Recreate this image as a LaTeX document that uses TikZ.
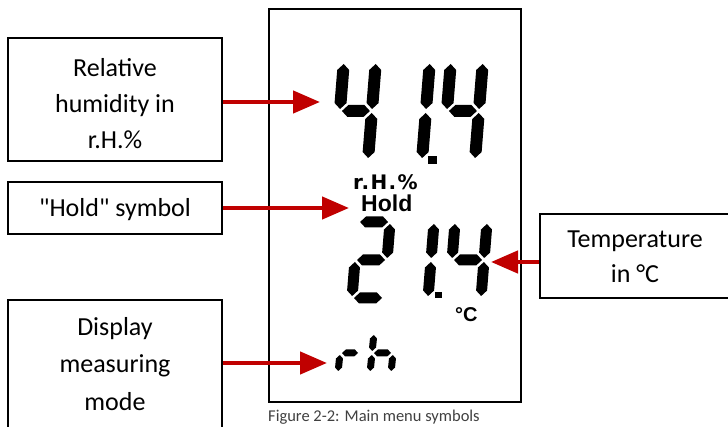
\documentclass[tikz,border=0pt]{standalone}
\usepackage{fontspec}
\setmainfont{Carlito}
\newfontfamily\carlq{Carlito}
\newfontfamily\arialf{Liberation Sans}
\newfontfamily\dejaf{DejaVu Sans}
\usetikzlibrary{arrows.meta}
\definecolor{arrred}{HTML}{C00000}
\newcommand\segt{10}
\newcommand\segg{2}
\newcommand\hsegment[3]{%
  \fill (#1+\segg,#3) -- (#1+\segg+\segt/2,#3+\segt/2) -- (#2-\segg-\segt/2,#3+\segt/2) -- (#2-\segg,#3) -- (#2-\segg-\segt/2,#3-\segt/2) -- (#1+\segg+\segt/2,#3-\segt/2) -- cycle;}
\newcommand\vsegment[3]{%
  \fill (#1,#2+\segg) -- (#1+\segt/2,#2+\segg+\segt/2) -- (#1+\segt/2,#3-\segg-\segt/2) -- (#1,#3-\segg) -- (#1-\segt/2,#3-\segg-\segt/2) -- (#1-\segt/2,#2+\segg+\segt/2) -- cycle;}
\def\lcdsega{\hsegment{0}{\dW}{\dH}}
\def\lcdsegb{\vsegment{\dW}{\dM}{\dH}}
\def\lcdsegc{\vsegment{\dW}{0}{\dM}}
\def\lcdsegd{\hsegment{0}{\dW}{0}}
\def\lcdsege{\vsegment{0}{0}{\dM}}
\def\lcdsegf{\vsegment{0}{\dM}{\dH}}
\def\lcdsegg{\hsegment{0}{\dW}{\dM}}
\newcommand\lcddigit[7]{%
  \begin{scope}[shift={(#1,#2)},x=1pt,y=1pt,xslant=#6]
    \def\segt{#5}%
    \pgfmathsetmacro\dW{#3}\pgfmathsetmacro\dH{#4}\pgfmathsetmacro\dM{#4/2}%
    \foreach \s in {#7}{\csname lcdseg\s\endcsname}
  \end{scope}}
\tikzset{
  boxn/.style={draw=black, line width=2pt, inner sep=0pt},
  lbl/.style={anchor=base, inner sep=0pt, font=\carlq\fontsize{26}{26}\selectfont},
  lcdtxt/.style={anchor=base west, inner sep=0pt},
  arrw/.style={draw=arrred, line width=4.5pt, -{Triangle[length=27pt 0,width=22pt 0]}, arrred}
}
\begin{document}
\begin{tikzpicture}[x=1pt,y=-1pt]
\useasboundingbox (0,0) rectangle (728,427);
\clip (0,0) rectangle (728,427);
\fill[white] (0,0) rectangle (728,427);
% LCD frame
\node[boxn, minimum width=252pt, minimum height=393pt] (lcd) at (395,205.5) {};
% digits top row 41.4
\lcddigit{336}{160}{32}{98}{12}{0.08}{b,c,f,g}
\lcddigit{390}{160}{32}{98}{12}{0.08}{b,c}
\lcddigit{443}{160}{32}{98}{12}{0.08}{b,c,f,g}
\fill (428,156) rectangle (437,164);
% digits bottom row 21.4
\lcddigit{352}{298}{32}{76}{11}{0.08}{a,b,g,e,d}
\lcddigit{396}{298}{32}{76}{11}{0.08}{b,c}
\lcddigit{449}{298}{32}{76}{11}{0.08}{b,c,f,g}
\fill (435,292) rectangle (442,298);
% rh
\lcddigit{338}{373}{20}{40}{7}{0.1}{e,g}
\lcddigit{370}{373}{21}{40}{7}{0.1}{e,f,g,c}
% lcd texts
\node[lcdtxt, font=\dejaf\bfseries\fontsize{20}{20}\selectfont\addfontfeature{LetterSpace=7}] (rhl) at (353,190) {r.H.\%};
\node[lcdtxt, font=\arialf\bfseries\fontsize{23}{23}\selectfont] (holdl) at (361,212) {Hold};
\node[lcdtxt, font=\arialf\bfseries\fontsize{20}{20}\selectfont] (degl) at (455,322) {°C};
% boxes
\node[boxn, minimum width=214pt, minimum height=123pt] (hum) at (115,99.5) {};
\node[lbl] (hum1) at (115,77) {Relative};
\node[lbl] (hum2) at (115,113) {humidity in};
\node[lbl] (hum3) at (115,149) {r.H.\%};
\node[boxn, minimum width=214pt, minimum height=52pt] (hold) at (115,208) {};
\node[lbl] (hold1) at (115,217) {"Hold" symbol};
\node[boxn, minimum width=192pt, minimum height=84pt] (temp) at (636,256) {};
\node[lbl] (temp1) at (635,248) {Temperature};
\node[lbl] (temp2) at (635,283) {in °C};
\node[boxn, minimum width=214pt, minimum height=140pt] (mode) at (115,370) {};
\node[lbl] (mode1) at (115,336) {Display};
\node[lbl] (mode2) at (115,373) {measuring};
\node[lbl] (mode3) at (115,410) {mode};
% caption
\node[anchor=base west, inner sep=0pt, font=\carlq\fontsize{16.5}{16.5}\selectfont, text=black!75] (cap) at (268,421) {Figure 2-2: Main menu symbols};
% arrows
\coordinate (t1) at (320,102);
\coordinate (t2) at (349,208);
\coordinate (t3) at (491,262);
\coordinate (t4) at (327,363);
\draw[arrw] (hum.east |- t1) -- (t1);
\draw[arrw] (hold.east |- t2) -- (t2);
\draw[arrw] (temp.west |- t3) -- (t3);
\draw[arrw] (mode.east |- t4) -- (t4);
\end{tikzpicture}
\end{document}
